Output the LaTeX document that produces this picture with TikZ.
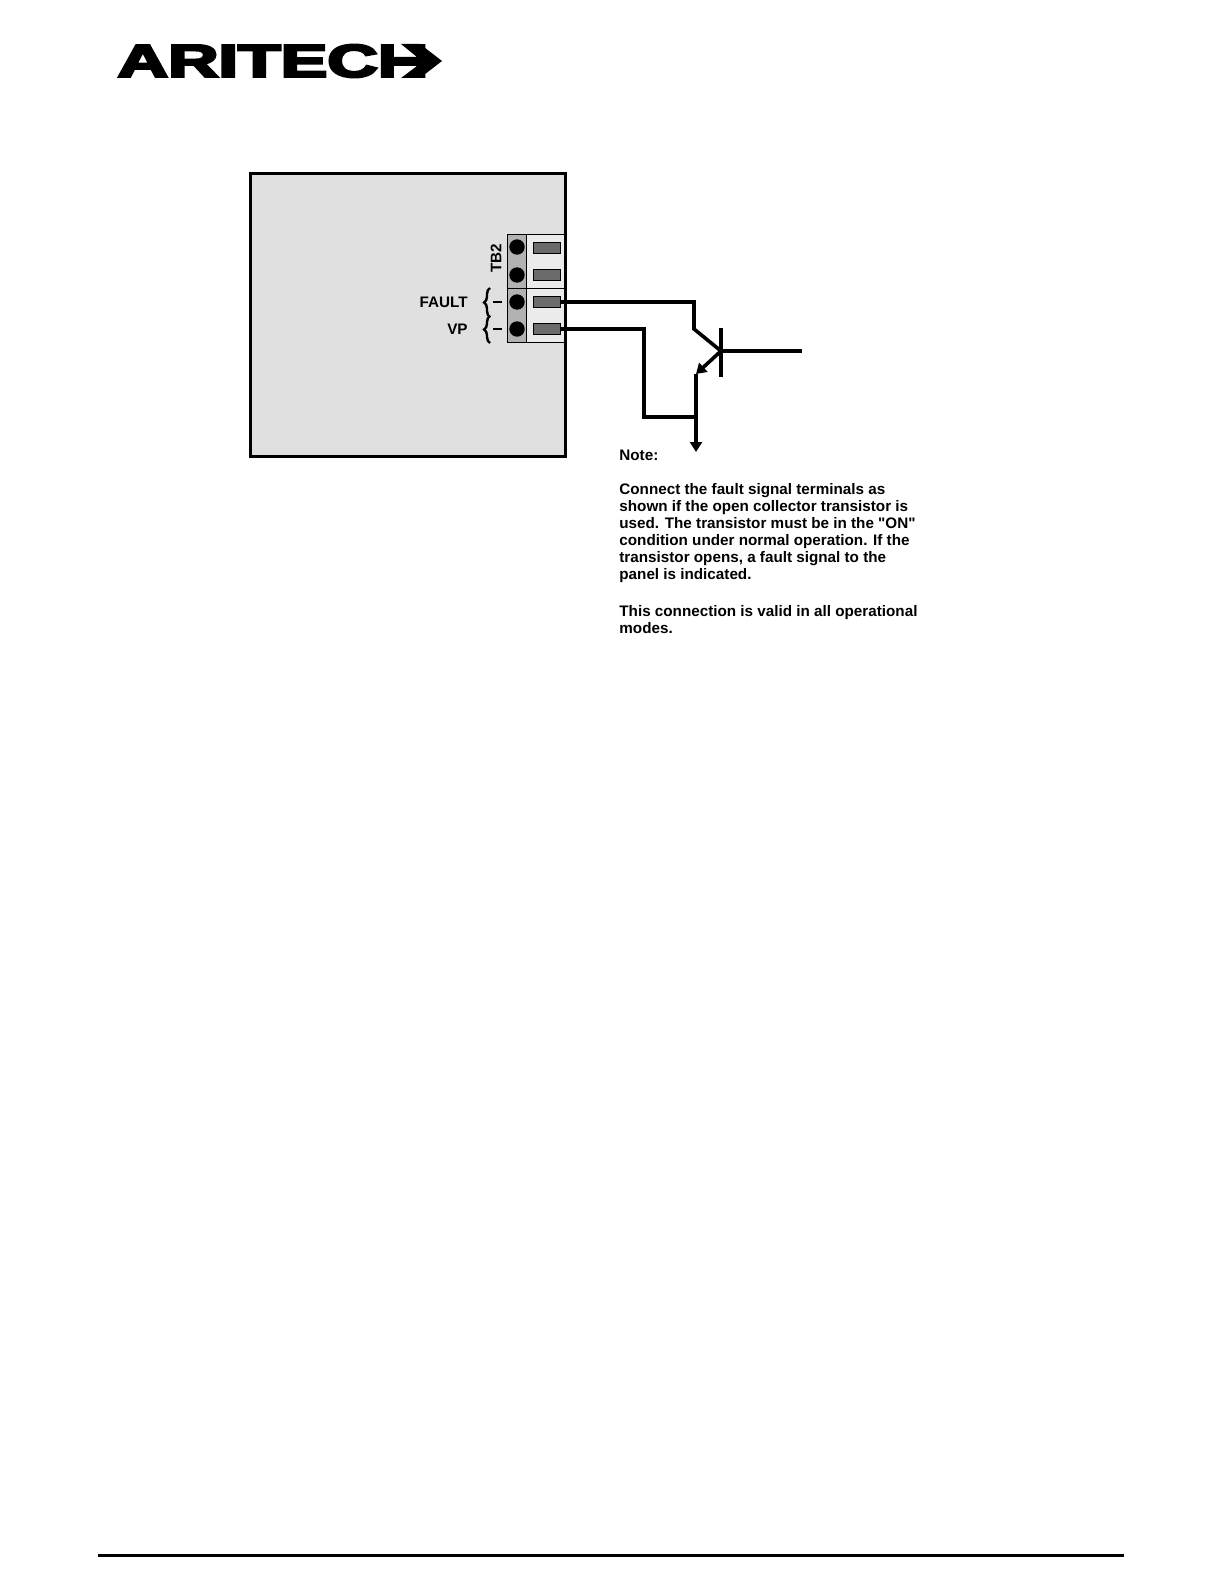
\documentclass[tikz,border=0pt]{standalone}
\usepackage{fontspec}
\newfontfamily\labfont{Liberation Sans}
\newfontfamily\logofont[FakeBold=5]{Liberation Sans}
\usetikzlibrary{decorations.pathreplacing,arrows.meta}
\definecolor{panelgrey}{gray}{0.88}
\definecolor{stripgrey}{gray}{0.70}
\definecolor{blockgrey}{gray}{0.92}
\definecolor{slotgrey}{gray}{0.42}
\tikzset{
  wire/.style={line width=1.8pt},
  slot/.style={draw,fill=slotgrey,line width=0.5pt,minimum width=13.5pt,minimum height=5.5pt,inner sep=0pt},
  screw/.style={circle,fill=black,minimum size=7.7pt,inner sep=0pt},
  lab/.style={font=\labfont\bfseries\fontsize{7.62}{8.5}\selectfont,inner sep=0pt},
  notel/.style={lab,anchor=base west},
  brc/.style={line width=1.2pt,decorate,decoration={brace,amplitude=3pt}}
}
\begin{document}
\begin{tikzpicture}[x=0.5pt,y=-0.5pt]
  \useasboundingbox (0,0) rectangle (1224,1584);
  % logo
  \node[inner sep=0pt,anchor=west,xscale=1.52,font=\logofont\bfseries\fontsize{23}{23}\selectfont] (logo) at (117,61) {ARITECH};
  \fill [white] (394,42) -- (402,42) -- (417,57) -- (394,57) -- cycle;
  \fill [white] (394,80) -- (402,80) -- (417,66) -- (394,66) -- cycle;
  \fill (390,57) -- (417,57) -- (401,44) -- (420,44) -- (442,61) -- (420,78) -- (401,78) -- (417,66) -- (390,66) -- cycle;
  % panel
  \draw [fill=panelgrey, line width=1.5pt] (250,173) rectangle (565,456);
  \draw [fill=blockgrey, line width=0.5pt] (507,234) rectangle (565,342);
  \draw [fill=stripgrey, line width=0.5pt] (507,234) rectangle (526.5,342);
  \draw [line width=0.5pt] (507,288) -- (565,288);
  \draw [line width=1.5pt] (565,173) -- (565,456);
  % terminals
  \node[screw] (s1) at (517,247) {};
  \node[screw] (s2) at (517,275) {};
  \node[screw] (s3) at (517,302) {};
  \node[screw] (s4) at (517,329) {};
  \node[slot] (t1) at (547,247.5) {};
  \node[slot] (t2) at (547,275) {};
  \node[slot] (t3) at (547,302) {};
  \node[slot] (t4) at (547,329) {};
  % labels
  \node[lab,rotate=90] (tb) at (496,258) {TB2};
  \node[lab,anchor=east] (fault) at (468,302) {FAULT};
  \node[lab,anchor=east] (vp) at (468,329) {VP};
  \draw [brc] (490,317) -- (490,288);
  \draw [brc] (490,343) -- (490,316);
  \coordinate (da) at (493,302);
  \coordinate (db) at (502,302);
  \coordinate (dc) at (493,329);
  \coordinate (dd) at (502,329);
  \draw [line width=1pt] (da) -- (db);
  \draw [line width=1pt] (dc) -- (dd);
  % transistor
  \coordinate (col) at (694,329);
  \coordinate (bas) at (721,351);
  \coordinate (emi) at (696,374);
  \coordinate (gnd) at (696,417);
  \coordinate (bup) at (721,328);
  \coordinate (bdn) at (721,377);
  \coordinate (inp) at (802,351);
  \coordinate (out) at (696,452);
  \draw [wire] (t3.east) -- (694,302) -- (col) -- (bas);
  \draw [wire] (t4.east) -- (644,329) -- (644,417) -- (gnd);
  \draw [wire] (bup) -- (bdn);
  \draw [wire] (bas) -- (inp);
  \draw [wire,-{Triangle[length=5pt,width=6pt]}] (bas) -- (emi);
  \draw [wire] (emi) -- (gnd);
  \draw [wire,-{Triangle[length=5pt,width=6pt]}] (gnd) -- (out);
  % note
  \node[notel] (n0) at (619,460) {Note:};
  \node[notel] (n1) at (619,494) {Connect the fault signal terminals as};
  \node[notel] (n2) at (619,511) {shown if the open collector transistor is};
  \node[notel] (n3) at (619,528) {used. The transistor must be in the "ON"};
  \node[notel] (n4) at (619,545) {condition under normal operation. If the};
  \node[notel] (n5) at (619,562) {transistor opens, a fault signal to the};
  \node[notel] (n6) at (619,579) {panel is indicated.};
  \node[notel] (n7) at (619,616) {This connection is valid in all operational};
  \node[notel] (n8) at (619,633) {modes.};
  % footer rule
  \draw [line width=1.5pt] (98,1555) -- (1124,1555);
\end{tikzpicture}
\end{document}
